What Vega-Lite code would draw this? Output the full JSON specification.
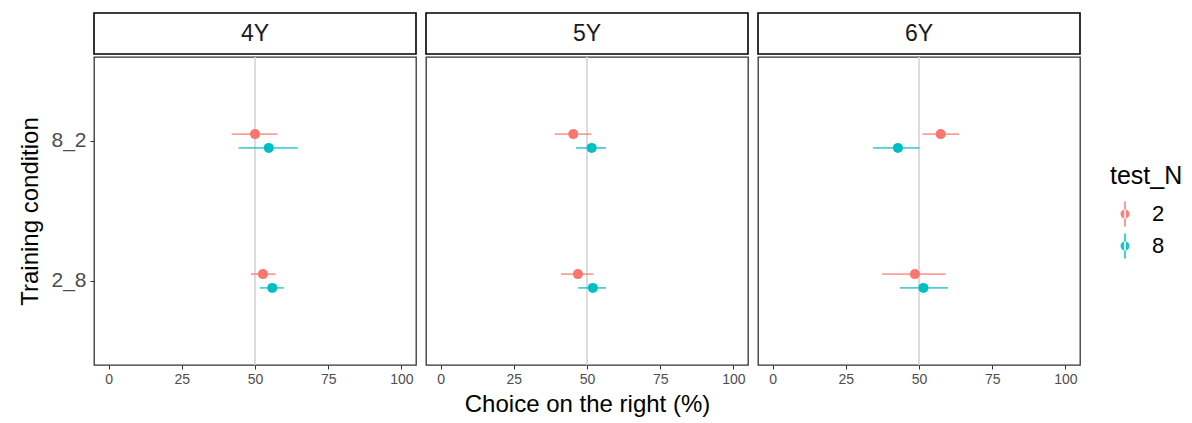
{
  "$schema": "https://vega.github.io/schema/vega-lite/v6.json",
  "background": "white",
  "padding": {"left": 18, "top": 12, "right": 5, "bottom": 3},
  "datasets": {
    "pts": [
      {"age": "4Y", "cond": "8_2", "test_N": "2", "mean": 50.0, "lo": 42.0, "hi": 57.6},
      {"age": "4Y", "cond": "8_2", "test_N": "8", "mean": 54.7, "lo": 44.4, "hi": 64.6},
      {"age": "4Y", "cond": "2_8", "test_N": "2", "mean": 52.7, "lo": 48.6, "hi": 57.0},
      {"age": "4Y", "cond": "2_8", "test_N": "8", "mean": 55.9, "lo": 51.6, "hi": 59.8},
      {"age": "5Y", "cond": "8_2", "test_N": "2", "mean": 45.3, "lo": 39.0, "hi": 51.5},
      {"age": "5Y", "cond": "8_2", "test_N": "8", "mean": 51.6, "lo": 46.2, "hi": 56.5},
      {"age": "5Y", "cond": "2_8", "test_N": "2", "mean": 46.9, "lo": 41.1, "hi": 52.2},
      {"age": "5Y", "cond": "2_8", "test_N": "8", "mean": 52.0, "lo": 47.0, "hi": 56.5},
      {"age": "6Y", "cond": "8_2", "test_N": "2", "mean": 57.4, "lo": 51.2, "hi": 63.7},
      {"age": "6Y", "cond": "8_2", "test_N": "8", "mean": 42.8, "lo": 34.3, "hi": 50.2},
      {"age": "6Y", "cond": "2_8", "test_N": "2", "mean": 48.6, "lo": 37.4, "hi": 59.1},
      {"age": "6Y", "cond": "2_8", "test_N": "8", "mean": 51.5, "lo": 43.5, "hi": 59.9}
    ],
    "ref": [{"v": 50}]
  },
  "config": {
    "font": "Liberation Sans",
    "view": {"stroke": "#333333", "strokeWidth": 1.3},
    "axis": {
      "grid": false, "domain": false, "tickColor": "#333333", "tickSize": 4, "tickWidth": 1,
      "labelColor": "#4d4d4d", "labelFont": "Liberation Sans",
      "titleColor": "#000000", "titleFontWeight": "normal", "titleFont": "Liberation Sans", "titleFontSize": 24
    },
    "legend": {
      "orient": "none", "legendX": 1016, "legendY": 151,
      "titleFontSize": 25, "titleFontWeight": "normal", "titleColor": "#000000", "titlePadding": 14,
      "labelFontSize": 22, "labelColor": "#000000", "labelOffset": 16,
      "symbolType": "M -1 0 A 1 1 0 1 0 1 0 A 1 1 0 1 0 -1 0 Z M -0.18 -2.8 L 0.18 -2.8 L 0.18 2.8 L -0.18 2.8 Z",
      "symbolSize": 81, "symbolStrokeWidth": 0, "symbolOffset": 4, "symbolOpacity": 0.9, "rowPadding": 6
    }
  },
  "spacing": 8,
  "hconcat": [
    {
      "spacing": 0,
      "vconcat": [
        {
          "width": 322, "height": 41,
          "view": {"stroke": "#000000", "strokeWidth": 1.6},
          "data": {"values": [{"age": "4Y"}]},
          "mark": {"type": "text", "fontSize": 23, "color": "#1a1a1a", "baseline": "middle"},
          "encoding": {"text": {"field": "age", "type": "nominal"}}
        },
        {
          "width": 322, "height": 308,
          "data": {"name": "pts"},
          "transform": [{"filter": "datum.age === '4Y'"}],
          "encoding": {
            "y": {"field": "cond", "type": "nominal", "sort": ["8_2", "2_8"],
                  "scale": {"paddingInner": 0, "paddingOuter": 0.1},
                  "axis": {"title": "Training condition", "labelFontSize": 21, "labelPadding": 4, "titlePadding": 8}},
            "yOffset": {"field": "test_N", "type": "nominal", "sort": ["2", "8"], "scale": {"paddingInner": 0, "paddingOuter": 0, "range": [56.2, 83.8]}}
          },
          "layer": [
            {
              "data": {"name": "ref"},
              "transform": [],
              "mark": {"type": "rule", "color": "#d4d4d4", "strokeWidth": 1.6},
              "encoding": {"x": {"field": "v", "type": "quantitative"}, "y": null, "yOffset": null}
            },
            {
              "mark": {"type": "rule", "strokeWidth": 1.8, "opacity": 0.7},
              "encoding": {
                "x": {"field": "lo", "type": "quantitative"},
                "x2": {"field": "hi"},
                "color": {"field": "test_N", "type": "nominal", "scale": {"domain": ["2", "8"], "range": ["#F8766D", "#00BFC4"]}, "title": "test_N"}
              }
            },
            {
              "mark": {"type": "point", "filled": true, "size": 100, "opacity": 1},
              "encoding": {
                "x": {"field": "mean", "type": "quantitative",
                      "scale": {"domain": [-5, 105], "nice": false, "zero": false},
                      "axis": {"values": [0, 25, 50, 75, 100], "labelFontSize": 14, "labelPadding": 3, "title": null}},
                "color": {"field": "test_N", "type": "nominal", "scale": {"domain": ["2", "8"], "range": ["#F8766D", "#00BFC4"]}, "title": "test_N"}
              }
            }
          ]
        }
      ]
    },
    {
      "spacing": 0,
      "vconcat": [
        {
          "width": 322, "height": 41,
          "view": {"stroke": "#000000", "strokeWidth": 1.6},
          "data": {"values": [{"age": "5Y"}]},
          "mark": {"type": "text", "fontSize": 23, "color": "#1a1a1a", "baseline": "middle"},
          "encoding": {"text": {"field": "age", "type": "nominal"}}
        },
        {
          "width": 322, "height": 308,
          "data": {"name": "pts"},
          "transform": [{"filter": "datum.age === '5Y'"}],
          "encoding": {
            "y": {"field": "cond", "type": "nominal", "sort": ["8_2", "2_8"],
                  "scale": {"paddingInner": 0, "paddingOuter": 0.1}, "axis": null},
            "yOffset": {"field": "test_N", "type": "nominal", "sort": ["2", "8"], "scale": {"paddingInner": 0, "paddingOuter": 0, "range": [56.2, 83.8]}}
          },
          "layer": [
            {
              "data": {"name": "ref"},
              "transform": [],
              "mark": {"type": "rule", "color": "#d4d4d4", "strokeWidth": 1.6},
              "encoding": {"x": {"field": "v", "type": "quantitative"}, "y": null, "yOffset": null}
            },
            {
              "mark": {"type": "rule", "strokeWidth": 1.8, "opacity": 0.7},
              "encoding": {
                "x": {"field": "lo", "type": "quantitative"},
                "x2": {"field": "hi"},
                "color": {"field": "test_N", "type": "nominal", "scale": {"domain": ["2", "8"], "range": ["#F8766D", "#00BFC4"]}, "title": "test_N"}
              }
            },
            {
              "mark": {"type": "point", "filled": true, "size": 100, "opacity": 1},
              "encoding": {
                "x": {"field": "mean", "type": "quantitative",
                      "scale": {"domain": [-5, 105], "nice": false, "zero": false},
                      "axis": {"values": [0, 25, 50, 75, 100], "labelFontSize": 14, "labelPadding": 3, "title": "Choice on the right (%)", "titlePadding": 6}},
                "color": {"field": "test_N", "type": "nominal", "scale": {"domain": ["2", "8"], "range": ["#F8766D", "#00BFC4"]}, "title": "test_N"}
              }
            }
          ]
        }
      ]
    },
    {
      "spacing": 0,
      "vconcat": [
        {
          "width": 322, "height": 41,
          "view": {"stroke": "#000000", "strokeWidth": 1.6},
          "data": {"values": [{"age": "6Y"}]},
          "mark": {"type": "text", "fontSize": 23, "color": "#1a1a1a", "baseline": "middle"},
          "encoding": {"text": {"field": "age", "type": "nominal"}}
        },
        {
          "width": 322, "height": 308,
          "data": {"name": "pts"},
          "transform": [{"filter": "datum.age === '6Y'"}],
          "encoding": {
            "y": {"field": "cond", "type": "nominal", "sort": ["8_2", "2_8"],
                  "scale": {"paddingInner": 0, "paddingOuter": 0.1}, "axis": null},
            "yOffset": {"field": "test_N", "type": "nominal", "sort": ["2", "8"], "scale": {"paddingInner": 0, "paddingOuter": 0, "range": [56.2, 83.8]}}
          },
          "layer": [
            {
              "data": {"name": "ref"},
              "transform": [],
              "mark": {"type": "rule", "color": "#d4d4d4", "strokeWidth": 1.6},
              "encoding": {"x": {"field": "v", "type": "quantitative"}, "y": null, "yOffset": null}
            },
            {
              "mark": {"type": "rule", "strokeWidth": 1.8, "opacity": 0.7},
              "encoding": {
                "x": {"field": "lo", "type": "quantitative"},
                "x2": {"field": "hi"},
                "color": {"field": "test_N", "type": "nominal", "scale": {"domain": ["2", "8"], "range": ["#F8766D", "#00BFC4"]}, "title": "test_N"}
              }
            },
            {
              "mark": {"type": "point", "filled": true, "size": 100, "opacity": 1},
              "encoding": {
                "x": {"field": "mean", "type": "quantitative",
                      "scale": {"domain": [-5, 105], "nice": false, "zero": false},
                      "axis": {"values": [0, 25, 50, 75, 100], "labelFontSize": 14, "labelPadding": 3, "title": null}},
                "color": {"field": "test_N", "type": "nominal", "scale": {"domain": ["2", "8"], "range": ["#F8766D", "#00BFC4"]}, "title": "test_N"}
              }
            }
          ]
        }
      ]
    }
  ]
}
